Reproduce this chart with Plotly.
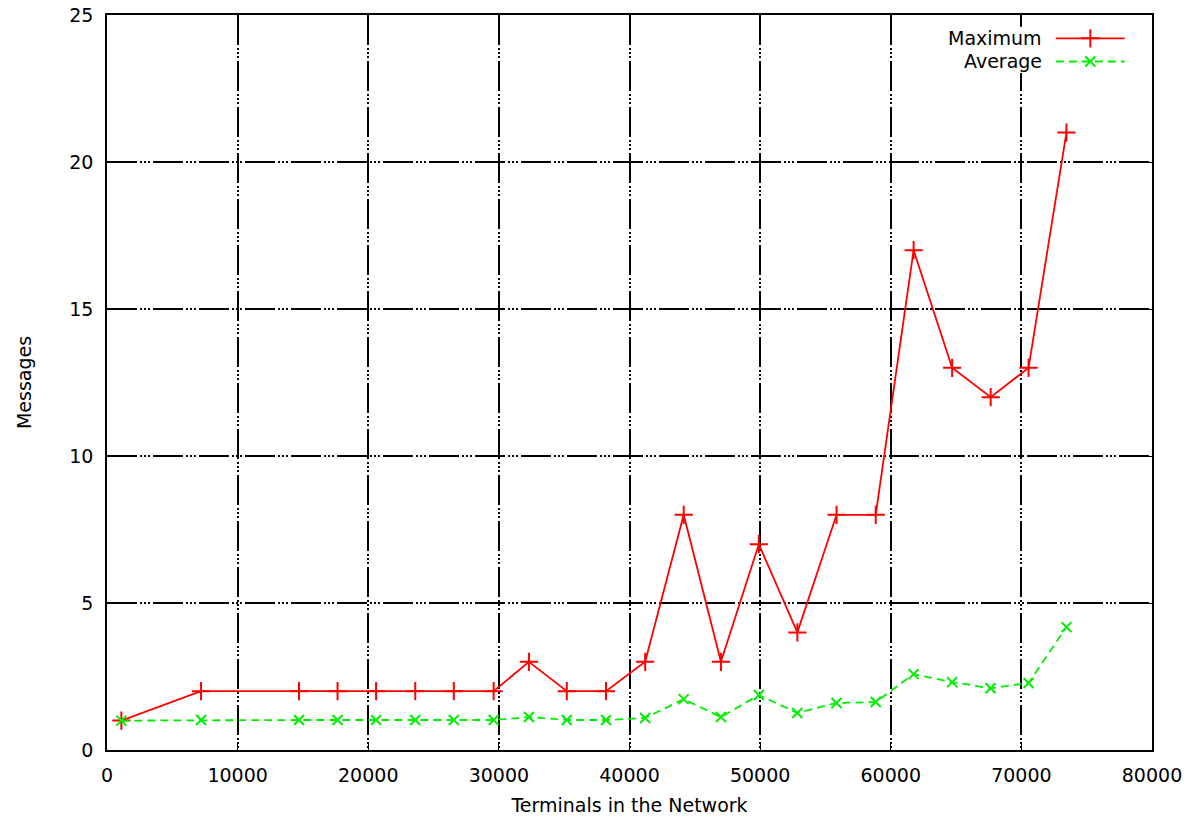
import plotly.graph_objects as go

# Network size (terminals) and message counts per terminal
terminals = [1100, 7200, 14700, 17650, 20600, 23600, 26550, 29600, 32300, 35200,
             38200, 41200, 44150, 47000, 49900, 52850, 55850, 58850, 61750, 64700,
             67650, 70550, 73450]
maximum = [1, 2, 2, 2, 2, 2, 2, 2, 3, 2, 2, 3, 8, 3, 7, 4, 8, 8, 17, 13, 12, 13, 21]
average = [1.0, 1.02, 1.02, 1.02, 1.02, 1.02, 1.02, 1.02, 1.12, 1.02, 1.02, 1.09,
           1.73, 1.12, 1.87, 1.26, 1.6, 1.63, 2.58, 2.31, 2.1, 2.28, 4.18]

series_names = ["Maximum", "Average"]
x_ticks = [0, 10000, 20000, 30000, 40000, 50000, 60000, 70000, 80000]
y_ticks = [0, 5, 10, 15, 20, 25]

RED = "#ff0000"
GREEN = "#00ee00"
FONT = "DejaVu Sans"
FSIZE = 19
GRID_DASH = "30px,3px,2px,2px,2px,2px,2px,3px"
AVG_DASH = "8px,5px"

fig = go.Figure()

fig.add_trace(go.Scatter(
    x=terminals, y=maximum, mode="lines+markers", name=series_names[0],
    line=dict(color=RED, width=1.8),
    marker=dict(symbol="cross-thin", size=13, line=dict(color=RED, width=2)),
    showlegend=False,
))
fig.add_trace(go.Scatter(
    x=terminals, y=average, mode="lines+markers", name=series_names[1],
    line=dict(color=GREEN, width=1.8, dash=AVG_DASH),
    marker=dict(symbol="x-thin", size=10, line=dict(color=GREEN, width=2)),
    showlegend=False,
))

# Key: samples on a hidden unit axis, names right-aligned to their left
key_y = [0.5, -0.5]
key_styles = [
    (RED, "solid", "cross-thin", 13),
    (GREEN, AVG_DASH, "x-thin", 10),
]
for name, ky, (col, dash, sym, sz) in zip(series_names, key_y, key_styles):
    fig.add_trace(go.Scatter(
        x=[0, 1], y=[ky, ky], mode="lines", xaxis="x2", yaxis="y2",
        line=dict(color=col, width=1.8, dash=dash), showlegend=False, hoverinfo="skip",
    ))
    fig.add_trace(go.Scatter(
        x=[0.5], y=[ky], mode="markers", xaxis="x2", yaxis="y2",
        marker=dict(symbol=sym, size=sz, line=dict(color=col, width=2)),
        showlegend=False, hoverinfo="skip",
    ))
    fig.add_annotation(
        x=-0.17, y=ky, xref="x2", yref="y2", text=name, showarrow=False,
        xanchor="right", yanchor="middle",
        font=dict(family=FONT, size=FSIZE, color="black"),
    )

axis_common = dict(
    showline=True, linecolor="black", linewidth=1.5, mirror="ticks",
    ticks="inside", ticklen=8, tickcolor="black", tickwidth=1.2,
    showgrid=True, gridcolor="black", gridwidth=1.5, griddash=GRID_DASH,
    zeroline=False, automargin=False,
    tickfont=dict(family=FONT, size=FSIZE, color="black"),
)

fig.update_layout(
    width=1194, height=820,
    margin=dict(l=107, r=42, t=15, b=70, autoexpand=False),
    paper_bgcolor="white", plot_bgcolor="white",
    xaxis=dict(range=[0, 80000], tickvals=x_ticks, ticktext=[str(v) for v in x_ticks],
               ticklabelstandoff=7,
               title=dict(text="Terminals in the Network", standoff=14,
                          font=dict(family=FONT, size=FSIZE, color="black")),
               **axis_common),
    yaxis=dict(range=[0, 25], tickvals=y_ticks, ticktext=[str(v) for v in y_ticks],
               ticklabelstandoff=8,
               title=dict(text="Messages", standoff=33,
                          font=dict(family=FONT, size=FSIZE, color="black")),
               **axis_common),
    xaxis2=dict(domain=[0.8545, 0.974], range=[-0.81, 1], visible=False, anchor="y2"),
    yaxis2=dict(domain=[0.921, 0.984], range=[-1, 1], visible=False, anchor="x2"),
    showlegend=False,
)

fig.write_html("out.html")
